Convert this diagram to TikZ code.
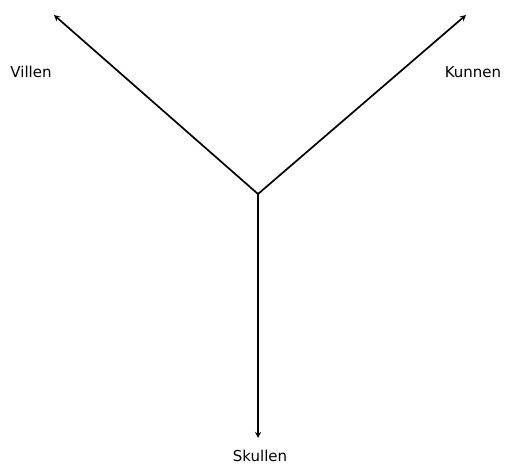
\documentclass[tikz,border=0pt]{standalone}
\usepackage{fontspec}
\setmainfont{DejaVu Sans}
\usetikzlibrary{arrows,positioning}

\begin{document}
\begin{tikzpicture}[x=1pt,y=-1pt]
  \useasboundingbox (0,0) rectangle (505,465);
  \tikzset{axis/.style={-stealth, line width=1.7pt}, lbl/.style={font=\fontsize{15}{17}\selectfont, inner sep=1pt}}

  % Centre and ends
  \coordinate (mid) at (258,194);
  \coordinate (vEnd) at (54,15);
  \coordinate (kEnd) at (466,15);
  \coordinate (sEnd) at (258,438);

  % Labels
  \node[lbl] (villen) at (31,72) {Villen};
  \node[lbl] (kunnen) at (473,72) {Kunnen};
  \node[lbl] (skullen) at (260,456) {Skullen};

  % Arrows
  \draw[axis] (mid) -- (vEnd);
  \draw[axis] (mid) -- (kEnd);
  \draw[axis] (mid) -- (sEnd);
\end{tikzpicture}
\end{document}
